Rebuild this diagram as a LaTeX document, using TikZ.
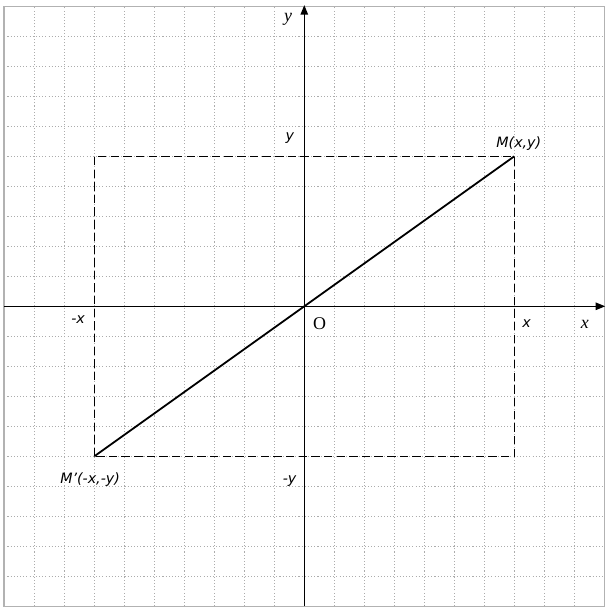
\documentclass[tikz,border=0pt]{standalone}
\usepackage{fontspec}
\setmainfont{Liberation Serif}
\newfontfamily\labfont{DejaVu Sans}
\usetikzlibrary{arrows.meta}
\tikzset{
  gridline/.style={gray!65, line width=0.9pt, dash pattern=on 1pt off 2pt},
  frameline/.style={gray!60, line width=1.5pt},
  axisline/.style={black, line width=1.3pt, -{Triangle[length=9pt,width=7pt]}},
  dashline/.style={black, line width=0.9pt, dash pattern=on 8pt off 4pt},
  segline/.style={black, line width=1.7pt},
  slab/.style={inner sep=0pt, font=\labfont\itshape\fontsize{13.5}{15}\selectfont},
  rlab/.style={inner sep=0pt, font=\fontsize{17}{19}\selectfont},
}
\begin{document}
\begin{tikzpicture}[x=1cm,y=1cm]
\useasboundingbox (-10.143,-10.223) rectangle (10.19,10.21);
% grid
\foreach \i in {-9,...,9} {
  \draw[gridline] (\i,-10) -- (\i,10);
  \draw[gridline] (-10,\i) -- (10,\i);
}
\draw[frameline] (-10,-10) rectangle (10,10);
% coordinates
\coordinate (O) at (0,0);
\coordinate (xl) at (-10,0);
\coordinate (xr) at (10.03,0);
\coordinate (yb) at (0,-10);
\coordinate (yt) at (0,10.04);
\coordinate (M) at (7,5);
\coordinate (Mp) at (-7,-5);
\coordinate (A) at (-7,5);
\coordinate (B) at (7,-5);
% dashed rectangle
\draw[dashline] (Mp) -- (A) -- (M) -- (B) -- cycle;
% axes
\draw[axisline] (xl) -- (xr);
\draw[axisline] (yb) -- (yt);
% segment
\draw[segline] (Mp) -- (M);
% labels
\node[rlab] (ylab) at (-0.54,9.55) {\itshape y};
\node[rlab] (xlab) at (9.35,-0.6) {\itshape x};
\node[rlab] (olab) at (0.51,-0.57) {O};
\node[slab] (Mlab) at (7.15,5.42) {M(x,y)};
\node[slab] (Mplab) at (-7.14,-5.77) {M’(-x,-y)};
\node[slab] (yv) at (-0.48,5.6) {y};
\node[slab] (ymv) at (-0.49,-5.82) {-y};
\node[slab] (xv) at (7.41,-0.59) {x};
\node[slab] (xmv) at (-7.54,-0.45) {-x};
\end{tikzpicture}
\end{document}
